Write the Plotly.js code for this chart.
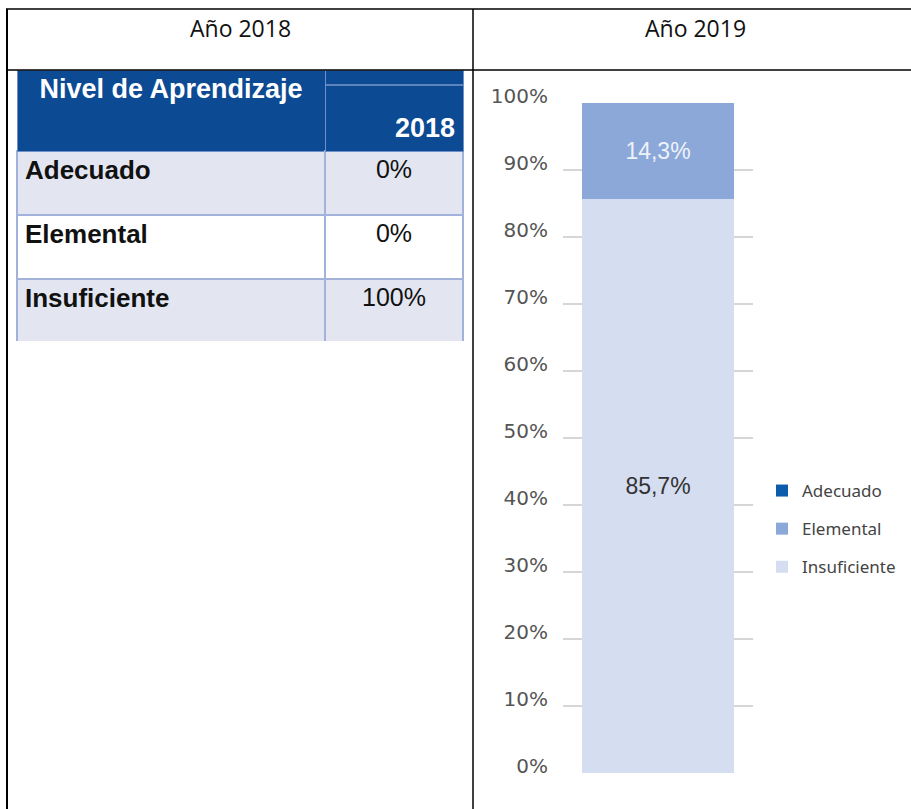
<!DOCTYPE html>
<html>
<head>
<meta charset="utf-8">
<script src="https://cdn.plot.ly/plotly-3.0.1.min.js"></script>
<style>
html,body{margin:0;padding:0;background:#fff;}
#chart{width:911px;height:809px;}
</style>
</head>
<body>
<div id="chart"></div>
<script>
// ---- data ----
const niveles = ['Adecuado', 'Elemental', 'Insuficiente'];
const valores2018 = [0, 0, 100];
const valores2019 = [0, 14.3, 85.7];
const encabezados = ['Año 2018', 'Año 2019'];
const tablaCabecera = ['Nivel de Aprendizaje', '2018'];
const barraCategoria = ['2019'];
const yTicks = [0, 10, 20, 30, 40, 50, 60, 70, 80, 90, 100];
const yTickLabels = ['0%', '10%', '20%', '30%', '40%', '50%', '60%', '70%', '80%', '90%', '100%'];

// ---- styles ----
const W = 911, H = 809;
const px = v => v / W;
const py = v => 1 - v / H;
const barColors = {Adecuado: '#0b5cad', Elemental: '#8ba8d8', Insuficiente: '#d5ddf0'};
const barTextColors = {Adecuado: '#ffffff', Elemental: '#eef2fa', Insuficiente: '#333333'};
const fmt = v => (v + '').replace('.', ',') + '%';
const tableFont = 'Liberation Sans, Arial, sans-serif';

// table trace (Año 2018)
const tableTrace = {
  type: 'table',
  domain: {x: [px(17), px(463)], y: [py(342), py(70)]},
  columnwidth: [308, 138],
  header: {
    values: [tablaCabecera[0], '\u00a0<br>' + tablaCabecera[1]],
    align: ['center', 'right'],
    height: 79,
    fill: {color: '#0c4a94'},
    line: {color: '#6f8fc6', width: 1},
    font: {family: tableFont, size: [27, 27], color: '#ffffff', weight: 'bold'}
  },
  cells: {
    values: [niveles, valores2018.map(v => v + '%')],
    align: ['left', 'center'],
    height: 64,
    fill: {color: [['#e3e6f1', '#ffffff', '#e3e6f1']]},
    line: {color: '#a3b2da', width: 1.5},
    font: {family: tableFont, size: [26, 25], color: '#111111', weight: ['bold', 'normal']}
  },
  hoverinfo: 'skip'
};

// bar traces (Año 2019): bottom-up order
const order = ['Insuficiente', 'Elemental', 'Adecuado'];
const barTraces = order.map(n => {
  const i = niveles.indexOf(n);
  const v = valores2019[i];
  return {
    type: 'bar',
    name: n,
    legendgroup: n,
    legendrank: i + 1,
    x: barraCategoria,
    y: [v],
    text: [v > 0 ? fmt(v) : ''],
    textposition: 'inside',
    insidetextanchor: 'middle',
    textangle: 0,
    constraintext: 'none',
    textfont: {family: 'Liberation Sans, Arial, sans-serif', size: 23, color: barTextColors[n]},
    marker: {color: barColors[n], line: {width: 0}},
    hoverinfo: 'skip',
    xaxis: 'x',
    yaxis: 'y'
  };
});

const shapes = [
  {type: 'line', xref: 'paper', yref: 'paper', x0: px(7), x1: px(7), y0: py(9), y1: py(809), line: {color: '#000', width: 2}},
  {type: 'line', xref: 'paper', yref: 'paper', x0: px(473), x1: px(473), y0: py(9), y1: py(809), line: {color: '#000', width: 1.5}},
  {type: 'line', xref: 'paper', yref: 'paper', x0: px(6), x1: px(911), y0: py(9), y1: py(9), line: {color: '#000', width: 1.5}},
  {type: 'line', xref: 'paper', yref: 'paper', x0: px(6), x1: px(911), y0: py(70), y1: py(70), line: {color: '#000', width: 1.5}},
  {type: 'line', xref: 'paper', yref: 'paper', x0: px(325), x1: px(463), y0: py(85), y1: py(85), line: {color: '#7a98cc', width: 1.5}}
];

const annotations = [
  {text: encabezados[0], xref: 'paper', yref: 'paper', x: px(240), y: py(28), xanchor: 'center', yanchor: 'middle', showarrow: false,
   font: {family: 'Open Sans, DejaVu Sans, sans-serif', size: 23, color: '#111111'}},
  {text: encabezados[1], xref: 'paper', yref: 'paper', x: px(695), y: py(28), xanchor: 'center', yanchor: 'middle', showarrow: false,
   font: {family: 'Open Sans, DejaVu Sans, sans-serif', size: 23, color: '#111111'}}
];

const layout = {
  width: W, height: H,
  margin: {l: 0, r: 0, t: 0, b: 0, pad: 0},
  paper_bgcolor: '#ffffff',
  plot_bgcolor: 'rgba(0,0,0,0)',
  showlegend: true,
  barmode: 'stack',
  bargap: 0.2,
  xaxis: {domain: [px(563), px(753)], showticklabels: false, showgrid: false, zeroline: false, showline: false, ticks: '', fixedrange: true},
  yaxis: {
    domain: [py(773.3), py(102.7)], range: [0, 100], tickmode: 'array', tickvals: yTicks, ticktext: yTickLabels,
    showgrid: true, gridcolor: '#d6d6d6', gridwidth: 2, zeroline: false, showline: false, ticks: '',
    ticklabelstandoff: 14, ticklabelshift: -7,
    tickfont: {family: 'DejaVu Sans, sans-serif', size: 20, color: '#555555'}, fixedrange: true
  },
  legend: {
    x: px(762), y: py(473), xanchor: 'left', yanchor: 'top',
    traceorder: 'grouped', tracegroupgap: 13,
    font: {family: 'Noto Sans, DejaVu Sans, sans-serif', size: 17, color: '#444444'},
    bgcolor: 'rgba(0,0,0,0)', borderwidth: 0
  },
  shapes: shapes,
  annotations: annotations
};

Plotly.newPlot('chart', [tableTrace].concat(barTraces), layout, {displayModeBar: false, staticPlot: true});
</script>
</body>
</html>
